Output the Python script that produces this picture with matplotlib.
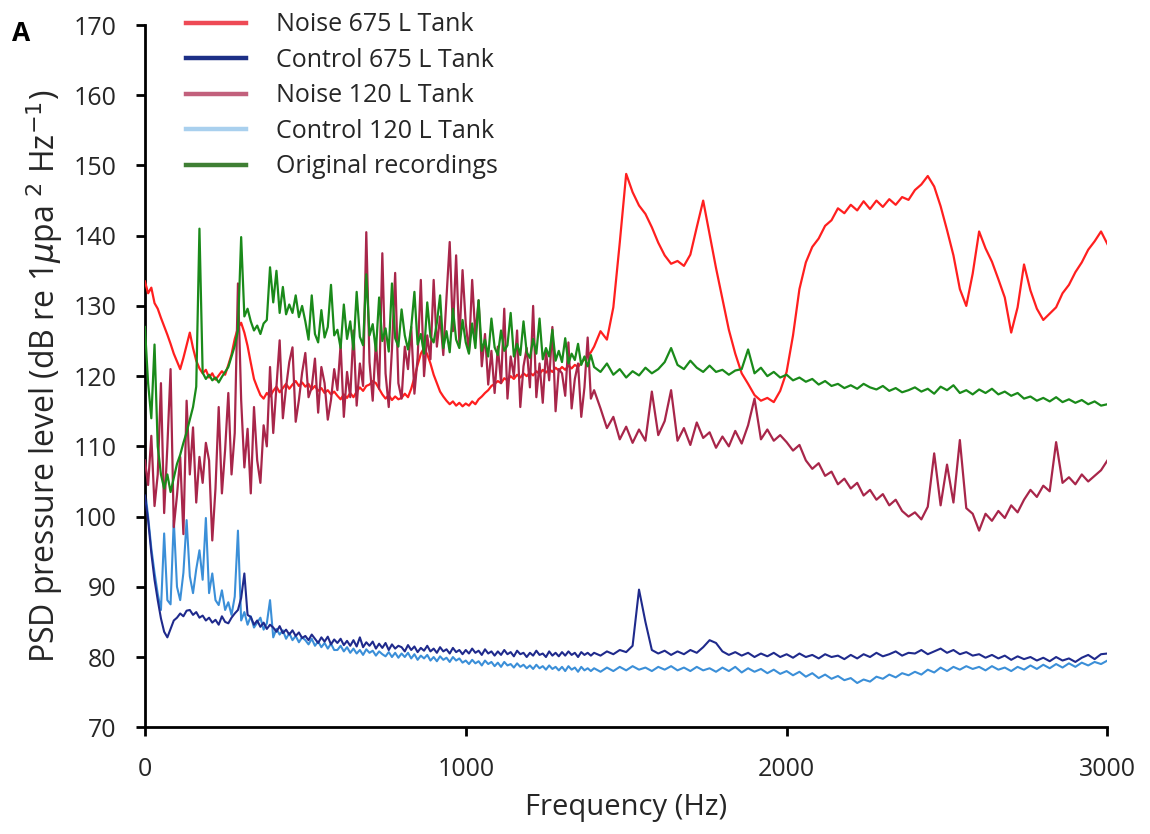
import numpy as np
import matplotlib
matplotlib.use("Agg")
import matplotlib.pyplot as plt
from matplotlib.lines import Line2D

plt.rcParams['font.family'] = ['Open Sans', 'DejaVu Sans']

# ---------------- data ----------------
# frequency bins (Hz): 10 Hz steps up to 1390 Hz, 20 Hz steps from 1400 to 3000 Hz
freq_low = np.arange(0, 1400, 10)
freq_high = np.arange(1400, 3001, 20)
freq = np.concatenate([freq_low, freq_high])

noise_675 = [
    # 0-590
    133.5, 131.8, 132.6, 130.4, 129.6, 128.3, 127.1, 125.9, 124.6, 123.2,
    122.1, 121.0, 122.6, 124.4, 126.2, 124.0, 122.2, 121.1, 120.4, 120.9,
    119.8, 120.4, 119.5, 120.1, 120.7, 120.2, 121.6, 123.1, 125.3, 126.9,
    127.6, 126.2, 124.3, 121.9, 119.6, 118.4, 117.3, 116.8, 117.6, 117.1,
    117.9, 118.5, 117.7, 118.3, 118.9, 118.2, 118.8, 119.3, 118.6, 119.1,
    118.5, 118.9, 118.1, 118.6, 117.9, 118.3, 117.6, 118.0, 117.4, 117.8,
    # 600-1390
    117.2, 116.7, 117.4, 116.9, 117.6, 117.0, 117.8, 118.4, 117.9, 118.6,
    118.8, 119.3, 119.0, 118.2, 117.4, 116.8, 117.3, 116.6, 117.1, 116.7,
    116.9, 117.5, 117.0, 118.2, 119.8, 121.6, 123.2, 124.0, 123.1, 121.8,
    120.2, 119.0, 117.8, 117.1, 116.5, 116.0, 116.4, 115.8, 116.2, 115.7,
    116.1, 115.8, 116.4, 116.0, 116.7, 117.1, 117.6, 118.0, 118.6, 118.9,
    119.3, 119.0, 119.7, 119.4, 120.0, 119.6, 120.2, 119.8, 120.4, 120.0,
    120.5, 120.1, 120.7, 120.3, 120.9, 120.5, 121.0, 120.6, 121.2, 120.8,
    121.3, 120.9, 121.5, 121.1, 121.6, 121.3, 121.9, 122.4, 122.9, 123.4,
    # 1400-3000 (20 Hz)
    124.2, 126.4, 125.2, 129.8, 139.0, 148.8, 146.2, 144.3, 143.1, 141.2,
    139.0, 137.2, 136.0, 136.4, 135.7, 137.3, 141.2, 145.0, 140.2, 135.4,
    131.0, 126.6, 123.2, 120.4, 118.9, 117.3, 116.5, 116.9, 116.3, 117.9,
    120.6, 125.8, 132.4, 136.2, 138.4, 139.6, 141.4, 142.2, 143.9, 143.2,
    144.4, 143.6, 144.9, 143.8, 145.0, 144.1, 145.2, 144.4, 145.5, 145.1,
    146.5, 147.3, 148.5, 147.0, 144.2, 140.8, 137.2, 132.4, 130.0, 134.6,
    140.6, 138.2, 136.3, 133.8, 131.2, 126.2, 129.8, 135.9, 132.2, 129.6,
    128.0, 128.9, 129.8, 131.8, 133.0, 134.8, 136.2, 138.0, 139.2, 140.6,
    138.8,
]

control_675 = [
    103.0, 99.5, 94.8, 91.0, 88.1, 85.5, 83.6, 82.8, 84.0, 85.2,
    85.6, 86.2, 85.8, 86.6, 86.7, 86.0, 86.4, 85.6, 85.9, 85.2,
    85.6, 84.9, 85.3, 84.6, 85.8, 85.0, 84.8, 85.6, 86.2, 86.7,
    88.4, 91.9, 86.0, 85.7, 84.6, 85.2, 84.3, 84.9, 84.0, 84.6,
    84.2, 83.6, 84.4, 83.4, 83.9, 83.2, 83.8, 83.0, 83.5, 82.7,
    83.0, 82.4, 83.2, 82.6, 82.0, 82.8, 82.2, 82.9, 81.8, 82.5,
    82.0, 82.6, 81.7, 82.3, 81.6, 82.4, 81.5, 82.8, 81.4, 82.1,
    81.6, 82.2, 81.2, 81.9, 81.3, 82.0, 81.0, 81.8, 81.2, 81.6,
    81.4, 80.8, 81.7, 81.0, 81.5, 80.7, 81.3, 80.9, 81.6, 80.8,
    81.2, 80.6, 81.4, 80.8, 81.1, 80.5, 81.3, 80.7, 81.0, 80.4,
    81.0, 80.5, 81.2, 80.6, 80.9, 80.3, 81.1, 80.5, 80.8, 80.2,
    80.8, 80.3, 81.0, 80.4, 80.7, 80.1, 80.9, 80.4, 80.6, 80.0,
    80.6, 80.2, 80.9, 80.3, 80.5, 80.0, 80.8, 80.2, 80.6, 80.1,
    80.7, 80.2, 80.8, 80.3, 80.6, 80.0, 80.7, 80.3, 80.6, 80.2,
    # 1400-3000 (20 Hz)
    80.6, 80.2, 80.8, 80.4, 81.0, 80.7, 81.6, 89.6, 85.0, 81.0,
    80.5, 80.9, 80.3, 80.8, 80.4, 81.0, 80.6, 81.4, 82.4, 82.0,
    80.8, 80.3, 80.7, 80.2, 80.6, 80.0, 80.5, 80.1, 80.6, 80.0,
    80.4, 79.9, 80.5, 80.0, 80.3, 79.8, 80.4, 80.0, 80.2, 79.7,
    80.3, 79.8, 80.4, 80.0, 80.6, 80.1, 80.4, 80.8, 80.2, 80.6,
    80.5, 81.0, 80.4, 80.8, 81.2, 80.6, 81.0, 80.4, 80.7, 80.2,
    80.4, 79.9, 80.3, 79.8, 80.2, 79.6, 80.1, 79.7, 80.0, 79.5,
    79.9, 79.4, 80.0, 79.5, 79.8, 79.3, 79.9, 80.3, 79.7, 80.4,
    80.5,
]

noise_120 = [
    108.0, 104.5, 111.5, 101.5, 106.0, 119.0, 100.5, 110.0, 121.0, 98.5,
    103.0, 108.5, 97.5, 116.5, 106.0, 112.7, 102.0, 108.5, 104.8, 110.5,
    108.0, 96.6, 104.0, 115.6, 103.3, 109.5, 117.6, 106.0, 111.9, 133.2,
    116.6, 107.0, 112.5, 103.3, 115.6, 108.0, 104.8, 113.0, 110.0, 121.3,
    111.9, 118.5, 125.1, 114.0, 118.4, 122.0, 124.1, 113.5, 116.6, 120.5,
    123.3, 117.0, 118.4, 122.5, 114.8, 121.3, 119.0, 113.8, 116.6, 121.0,
    118.0, 124.5, 114.2, 120.6, 117.0, 126.5, 115.8, 121.8, 118.6, 140.5,
    122.0, 116.5, 125.0, 118.2, 137.5, 120.4, 115.6, 123.8, 134.7, 119.0,
    116.8, 124.2, 121.0, 127.0, 117.5, 122.6, 133.7, 120.0, 125.8, 122.4,
    133.7, 124.2, 128.5, 123.0, 131.2, 139.1, 126.4, 137.2, 124.8, 135.1,
    127.5, 123.4, 133.7, 125.8, 130.8, 121.4, 126.0, 118.8, 123.6, 117.6,
    124.2, 119.0, 129.6, 116.8, 122.8, 120.0, 126.5, 115.6, 121.4, 124.0,
    118.4, 130.0, 117.0, 121.8, 116.2, 123.6, 119.4, 127.0, 115.0, 121.0,
    120.4, 117.2, 124.8, 115.4, 119.6, 121.8, 114.2, 118.4, 125.5, 116.8,
    # 1400-3000 (20 Hz)
    118.0, 115.4, 112.6, 114.2, 111.0, 112.8, 110.5, 112.4, 110.8, 117.8,
    111.6, 113.6, 118.0, 110.8, 112.6, 110.2, 113.4, 111.2, 112.0, 109.8,
    111.4, 110.0, 112.2, 110.4, 113.0, 116.8, 111.0, 112.4, 110.8, 111.6,
    110.6, 109.4, 110.2, 108.0, 106.8, 107.6, 105.8, 106.4, 104.6, 105.4,
    104.0, 104.8, 103.0, 103.8, 102.4, 103.2, 101.6, 102.4, 100.8, 100.0,
    100.6, 99.6, 101.4, 109.0, 101.6, 107.4, 102.0, 110.9, 101.2, 100.4,
    98.0, 100.4, 99.4, 100.8, 99.8, 101.6, 100.6, 102.4, 103.8, 102.8,
    104.4, 103.6, 110.6, 104.8, 105.6, 104.6, 106.0, 105.0, 105.8, 106.6,
    108.0,
]

control_120 = [
    104.0, 100.0, 95.5, 92.0, 89.0, 86.7, 97.6, 88.1, 87.5, 99.5,
    90.0, 88.1, 92.0, 99.5, 91.5, 89.1, 92.5, 95.2, 91.0, 99.8,
    89.1, 91.9, 88.1, 87.4, 89.5, 86.7, 87.8, 86.0, 88.6, 98.0,
    85.2, 86.4, 84.6, 85.8, 84.2, 84.9, 85.6, 83.9, 84.8, 88.1,
    82.8, 84.0, 83.2, 83.8, 82.6, 83.4, 82.4, 83.0, 82.1, 82.8,
    82.4, 81.8, 82.6, 81.6, 82.2, 81.4, 82.0, 81.2, 81.9, 81.0,
    81.0, 81.6, 80.8, 81.4, 80.6, 81.2, 80.5, 81.0, 80.3, 81.1,
    80.6, 80.9, 80.2, 80.8, 80.4, 80.1, 80.7, 80.0, 80.6, 79.9,
    80.5, 80.0, 80.6, 79.8, 80.4, 79.6, 80.2, 79.8, 80.3, 79.5,
    80.0, 79.4, 80.1, 79.6, 79.9, 79.3, 80.0, 79.5, 79.8, 79.2,
    79.5, 79.0, 79.6, 79.1, 79.4, 78.8, 79.5, 79.0, 79.3, 78.7,
    79.2, 78.6, 79.3, 78.8, 79.0, 78.5, 79.1, 78.6, 78.9, 78.4,
    78.8, 78.3, 78.9, 78.4, 78.7, 78.2, 78.8, 78.3, 78.6, 78.1,
    78.6, 78.0, 78.7, 78.2, 78.5, 77.9, 78.6, 78.1, 78.4, 78.0,
    # 1400-3000 (20 Hz)
    78.4, 77.9, 78.5, 78.0, 78.6, 78.1, 78.7, 78.2, 78.5, 78.0,
    78.6, 78.2, 78.7, 78.1, 78.5, 78.0, 78.6, 78.1, 78.4, 77.9,
    78.5, 78.0, 78.6, 77.8, 78.4, 77.9, 78.3, 77.7, 78.2, 77.6,
    78.0, 77.4, 77.9, 77.2, 77.7, 77.0, 77.5, 76.9, 77.3, 76.7,
    77.0, 76.3, 76.8, 76.5, 77.2, 76.9, 77.5, 77.1, 77.7, 77.4,
    77.9, 77.5, 78.2, 77.8, 78.5, 78.0, 78.6, 78.2, 78.7, 78.3,
    78.6, 78.1, 78.7, 78.2, 78.5, 78.0, 78.6, 78.2, 78.8, 78.3,
    78.9, 78.4, 79.0, 78.5, 79.1, 78.6, 79.2, 78.8, 79.3, 79.0,
    79.5,
]

original = [
    127.0, 119.0, 114.0, 124.5, 110.0, 106.0, 104.0, 106.0, 103.5, 105.5,
    107.5, 108.8, 110.5, 112.0, 113.8, 115.6, 118.5, 141.0, 120.5, 119.6,
    120.2, 119.4, 119.8, 119.1, 119.9, 120.6, 121.3, 122.8, 124.3, 126.5,
    139.8, 128.5, 129.6, 127.8, 126.5, 127.2, 126.0, 127.5, 128.0, 135.5,
    130.5, 135.0, 129.0, 132.7, 128.8, 130.2, 129.0, 131.5, 128.4, 130.0,
    127.8, 125.2, 131.5, 126.0, 124.8, 129.4, 125.5, 127.0, 133.0, 125.8,
    126.6, 124.0, 130.2, 125.3, 127.8, 123.8, 132.0, 125.6, 124.4, 134.5,
    125.8, 127.4, 123.6, 131.2, 125.0, 126.8, 123.5, 133.2, 125.4, 124.2,
    129.5, 125.8, 123.8, 126.9, 132.0, 124.5, 126.0, 123.2, 130.5, 125.6,
    124.8, 127.6, 131.5, 124.0, 126.4, 123.4, 129.6, 125.2, 124.0, 128.0,
    124.8, 123.2, 127.5, 124.0, 130.8, 123.6, 125.2, 122.8, 128.2, 124.1,
    123.0, 126.5, 123.6, 124.4, 129.0, 122.8, 124.6, 123.0, 127.8, 123.4,
    122.6, 125.3, 123.2, 128.2, 122.4, 124.0, 122.8, 126.6, 122.2, 123.6,
    122.0, 125.4, 121.8, 123.2, 122.3, 124.6, 121.6, 122.8, 121.4, 123.0,
    # 1400-3000 (20 Hz)
    121.3, 120.6, 121.8, 120.2, 121.0, 119.8, 120.7, 120.1, 121.2, 120.4,
    121.0, 122.0, 124.0, 121.6, 121.0, 122.2, 121.2, 120.6, 121.5, 120.6,
    120.9, 120.2, 120.8, 121.0, 123.8, 120.4, 121.2, 120.0, 120.6, 119.8,
    120.2, 119.4, 119.8, 119.2, 119.6, 118.8, 119.3, 118.6, 118.9, 118.3,
    118.7, 118.2, 118.9, 118.4, 118.1, 118.6, 117.9, 118.3, 117.7, 118.0,
    118.4, 117.8, 118.2, 117.5, 118.5, 118.0, 118.7, 117.6, 118.0, 117.4,
    118.1, 117.6, 118.2, 117.4, 117.8, 117.2, 117.6, 116.8, 117.1, 116.5,
    116.9, 116.4, 117.0, 116.3, 116.7, 116.2, 116.6, 116.0, 116.4, 115.8,
    116.0,
]

series_labels = ["Noise 675 L Tank", "Control 675 L Tank", "Noise 120 L Tank",
                 "Control 120 L Tank", "Original recordings"]
x_ticks = [0, 1000, 2000, 3000]
y_ticks = [70, 80, 90, 100, 110, 120, 130, 140, 150, 160, 170]

# ---------------- styling ----------------
line_colors = {
    "Noise 675 L Tank": "#ff1f1f",
    "Control 675 L Tank": "#1f2a8c",
    "Noise 120 L Tank": "#a8264a",
    "Control 120 L Tank": "#3b8fd8",
    "Original recordings": "#1a8a1a",
}
legend_colors = {
    "Noise 675 L Tank": "#ee4a55",
    "Control 675 L Tank": "#1c2f86",
    "Noise 120 L Tank": "#c2607c",
    "Control 120 L Tank": "#a9d0ee",
    "Original recordings": "#3f7f34",
}
zorders = {
    "Control 120 L Tank": 2,
    "Control 675 L Tank": 3,
    "Noise 675 L Tank": 4,
    "Noise 120 L Tank": 5,
    "Original recordings": 6,
}
widths = {
    "Control 120 L Tank": 1.5,
    "Control 675 L Tank": 1.5,
    "Noise 675 L Tank": 1.6,
    "Noise 120 L Tank": 1.6,
    "Original recordings": 1.6,
}

fig = plt.figure(figsize=(11.5, 8.34), dpi=100)
ax = fig.add_axes([0.126, 0.128, 0.837, 0.842])

data = {
    "Noise 675 L Tank": noise_675,
    "Control 675 L Tank": control_675,
    "Noise 120 L Tank": noise_120,
    "Control 120 L Tank": control_120,
    "Original recordings": original,
}
for name in series_labels:
    ax.plot(freq, data[name], color=line_colors[name], lw=widths[name],
            zorder=zorders[name])

ax.set_xlim(0, 3000)
ax.set_ylim(70, 170)
ax.set_xticks(x_ticks)
ax.set_yticks(y_ticks)
ax.tick_params(axis='both', labelsize=18, width=2, length=6.5, direction='out',
               colors='black', labelcolor='#262626')
ax.tick_params(axis='x', pad=15)
ax.tick_params(axis='y', pad=14)
for side in ['top', 'right']:
    ax.spines[side].set_visible(False)
for side in ['left', 'bottom']:
    ax.spines[side].set_linewidth(2)
    ax.spines[side].set_color('black')

ax.set_xlabel("Frequency (Hz)", fontsize=21, labelpad=8, color='#262626')
ax.set_ylabel(r"PSD pressure level (dB re 1$\mu$pa $^{2}$ Hz$^{-1}$)",
              fontsize=23, labelpad=6, color='#262626')

handles = [Line2D([0], [0], color=legend_colors[n], lw=3.2) for n in series_labels]
leg = ax.legend(handles, series_labels, loc='upper left',
                bbox_to_anchor=(0.019, 1.05), frameon=False, fontsize=18,
                handlelength=2.4, handletextpad=1.2, labelspacing=0.42,
                borderpad=0.4)
for t in leg.get_texts():
    t.set_color('#262626')

fig.text(12 / 1150, 1 - 20 / 834, "A", fontsize=19, fontweight='bold',
         va='top', ha='left')

fig.savefig("out.png", dpi=100)
